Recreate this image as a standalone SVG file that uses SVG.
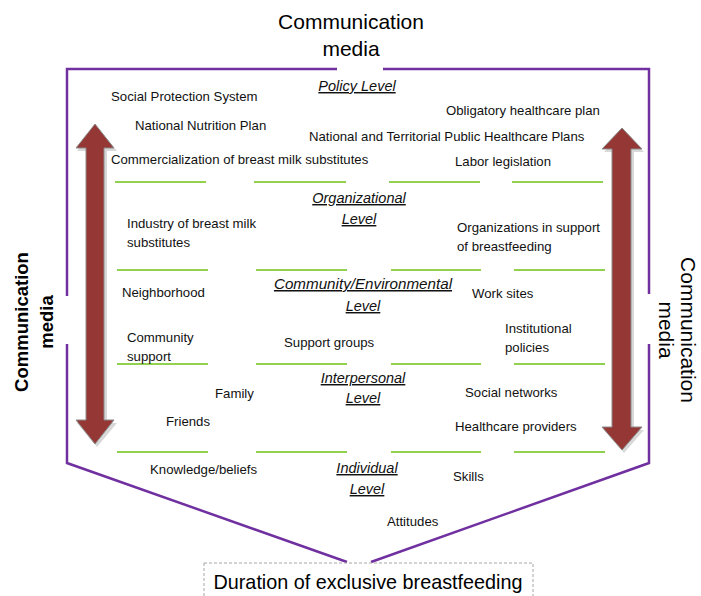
<svg xmlns="http://www.w3.org/2000/svg" width="701" height="596" viewBox="0 0 701 596">
<style>
.t{font-family:"Liberation Sans",Arial,sans-serif;font-size:13.2px;fill:#111}
.lv{font-family:"Liberation Sans",Arial,sans-serif;font-size:14.5px;font-style:italic;fill:#111;text-anchor:middle;text-decoration:underline}
.title{font-family:"Liberation Sans",Arial,sans-serif;font-size:21px;fill:#000;text-anchor:middle}
.rt{font-family:"Liberation Sans",Arial,sans-serif;font-size:21px;fill:#000;text-anchor:middle}
.side{font-family:"Liberation Sans",Arial,sans-serif;font-size:18.5px;font-weight:bold;fill:#000;text-anchor:middle}
.frame{fill:none;stroke:#7030A0;stroke-width:2.5}
.sep{stroke:#92D050;stroke-width:2}
.arr{fill:#953735;stroke:#8c8c8c;stroke-width:1}
.shd{fill:#c8c8c8;opacity:0.7}
</style>
<rect width="701" height="596" fill="#fff"/>

<g id="frame">
<path class="frame" d="M67,296 V69 H337 M383,69 H649 V294"/>
<path class="frame" d="M67,344 V463 L347,562 M371,562 L649,463 V344"/>
</g>

<g id="separators">
<path class="sep" d="M115,182 H206 M254,182 H346 M389,182 H480 M512,182 H603"/>
<path class="sep" d="M117,270 H208 M256,270 H347 M391,270 H481 M514,270 H605"/>
<path class="sep" d="M117,364 H208 M256,364 H347 M391,364 H481 M514,364 H605"/>
<path class="sep" d="M117,452 H208 M256,452 H347 M391,452 H481 M514,452 H605"/>
</g>

<g id="connectors">
<path class="shd" d="M97,127 L117,151 H107 V423 H117 L97,447 L77,423 H88 V151 H77 Z"/>
<path class="arr" d="M95,124 L114,148 H104 V420 H114 L95,444 L76,420 H86 V148 H76 Z"/>
<path class="shd" d="M624,131 L644,152 H634 V430 H644 L624,453 L604,430 H614 V152 H604 Z"/>
<path class="arr" d="M622,128 L642,149 H631 V427 H642 L622,450 L602,427 H612 V149 H602 Z"/>
</g>

<g id="title-top"><text class="title" x="351" y="29">Communication</text><text class="title" x="351" y="56">media</text></g>
<g id="title-left" transform="translate(0,322) rotate(-90)"><text class="side" x="0" y="28">Communication</text><text class="side" x="0" y="53">media</text></g>
<g id="title-right" transform="translate(0,330) rotate(90)"><text class="rt" x="0" y="-681">Communication</text><text class="rt" x="0" y="-659">media</text></g>

<g id="policy-level"><text class="lv" x="357" y="91">Policy Level</text></g>
<g id="social-protection"><text class="t" x="111" y="101">Social Protection System</text></g>
<g id="national-nutrition"><text class="t" x="135" y="130">National Nutrition Plan</text></g>
<g id="obligatory"><text class="t" x="446" y="115">Obligatory healthcare plan</text></g>
<g id="national-territorial"><text class="t" x="309" y="141">National and Territorial Public Healthcare Plans</text></g>
<g id="commercialization"><text class="t" x="111" y="164">Commercialization of breast milk substitutes</text></g>
<g id="labor"><text class="t" x="455" y="166">Labor legislation</text></g>

<g id="organizational-level"><text class="lv" x="359" y="203">Organizational</text><text class="lv" x="359" y="224">Level</text></g>
<g id="industry"><text class="t" x="127" y="228">Industry of breast milk</text><text class="t" x="127" y="247">substitutes</text></g>
<g id="organizations"><text class="t" x="457" y="232">Organizations in support</text><text class="t" x="457" y="251">of breastfeeding</text></g>

<g id="community-level"><text class="lv" x="363" y="289" style="font-size:15.2px">Community/Environmental</text><text class="lv" x="363" y="311">Level</text></g>
<g id="neighborhood"><text class="t" x="122" y="297">Neighborhood</text></g>
<g id="work-sites"><text class="t" x="472" y="298">Work sites</text></g>
<g id="community-support"><text class="t" x="127" y="342">Community</text><text class="t" x="127" y="361">support</text></g>
<g id="support-groups"><text class="t" x="284" y="347">Support groups</text></g>
<g id="institutional"><text class="t" x="505" y="333">Institutional</text><text class="t" x="505" y="352">policies</text></g>

<g id="interpersonal-level"><text class="lv" x="363" y="383">Interpersonal</text><text class="lv" x="363" y="403">Level</text></g>
<g id="family"><text class="t" x="215" y="398">Family</text></g>
<g id="social-networks"><text class="t" x="465" y="397">Social networks</text></g>
<g id="friends"><text class="t" x="166" y="426">Friends</text></g>
<g id="healthcare-providers"><text class="t" x="455" y="431">Healthcare providers</text></g>

<g id="individual-level"><text class="lv" x="367" y="473">Individual</text><text class="lv" x="367" y="494">Level</text></g>
<g id="knowledge"><text class="t" x="150" y="474">Knowledge/beliefs</text></g>
<g id="skills"><text class="t" x="453" y="481">Skills</text></g>
<g id="attitudes"><text class="t" x="387" y="526">Attitudes</text></g>

<g id="outcome">
<rect x="204" y="563" width="329" height="40" fill="#fff" stroke="#a6a6a6" stroke-width="1" stroke-dasharray="3,2"/>
<text x="368" y="589" text-anchor="middle" style="font-family:'Liberation Sans',Arial,sans-serif;font-size:19.8px;fill:#000">Duration of exclusive breastfeeding</text>
</g>
</svg>
